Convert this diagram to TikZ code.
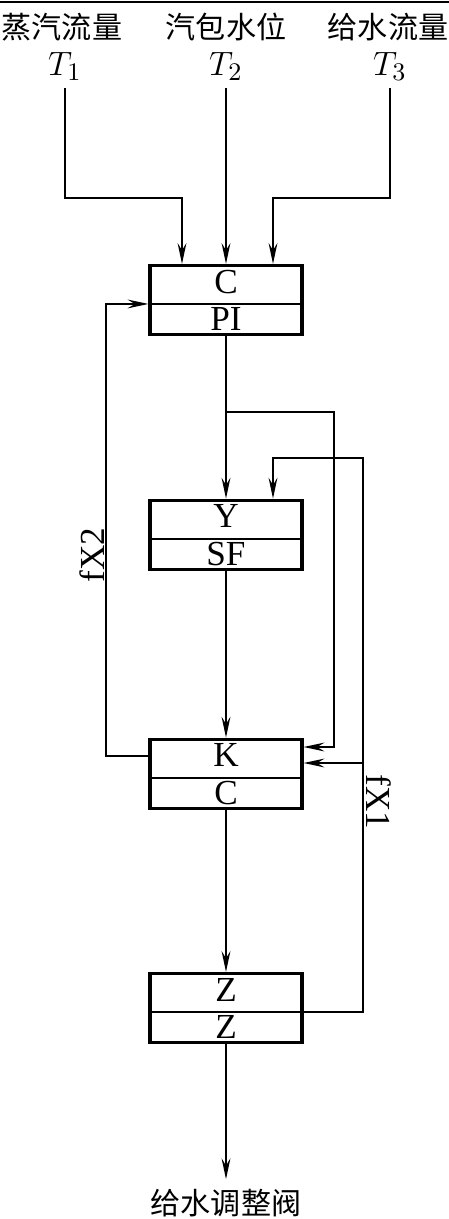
\documentclass[tikz,border=0pt]{standalone}
\usepackage{fontspec}
\setmainfont{Liberation Serif}
\newfontfamily\cjk{Noto Sans CJK SC}
\usetikzlibrary{shapes.multipart,arrows.meta}

\begin{document}
\begin{tikzpicture}[x=0.0125cm, y=-0.0125cm,
    font=\fontsize{12.5}{15}\selectfont,
    blk/.style={rectangle split, rectangle split parts=2, rectangle split draw splits=false,
      draw, line width=1.1pt, minimum width=1.9cm, inner ysep=0.8pt,
      text height=8.5pt, text depth=2.5pt, align=center},
    arr/.style={line width=0.7pt, -{Stealth[length=2.6mm,width=1.1mm,inset=0.9mm]}},
    wire/.style={line width=0.7pt},
    cn/.style={font=\cjk\fontsize{10.7}{13}\selectfont},
    lbl/.style={inner sep=1pt, outer ysep=1.5pt}]
    \useasboundingbox (0,0) rectangle (449,1219);
    \draw[wire] (0,2) -- (449,2);

    % Measured signals
    \node[cn] (l1) at (62,27) {蒸汽流量};
    \node[cn] (l2) at (226,27) {汽包水位};
    \node[cn] (l3) at (388,27) {给水流量};
    \node[lbl, anchor=south] (t1) at (65,88) {$T_1$};
    \node[lbl, anchor=south] (t2) at (226,88) {$T_2$};
    \node[lbl, anchor=south] (t3) at (390,88) {$T_3$};

    % Blocks
    \node[blk] (c1) at (226,300) {C\nodepart{two}PI};
    \node[blk] (ysf) at (226,535) {Y\nodepart{two}SF};
    \node[blk] (kc) at (226,774) {K\nodepart{two}C};
    \node[blk] (zz) at (226,1008) {Z\nodepart{two}Z};
    \foreach \b in {c1,ysf,kc,zz}
      \draw[wire] (\b.text split west) -- (\b.text split east);

    % Inputs to the first block
    \coordinate (k1) at (182,198);
    \coordinate (k3) at (273,198);
    \draw[arr] (t1.south) |- (k1) -- (k1 |- c1.north);
    \draw[arr] (t2.south) -- (c1.north);
    \draw[arr] (t3.south) |- (k3) -- (k3 |- c1.north);

    % Main chain
    \node[cn] (out) at (226,1203) {给水调整阀};
    \draw[arr] (c1.south) -- (ysf.north);
    \draw[arr] (ysf.south) -- (kc.north);
    \draw[arr] (kc.south) -- (zz.north);
    \draw[arr] (zz.south) -- (out.north);

    % Feed forward to K
    \coordinate (b1) at (226,412);
    \coordinate (r1) at (334,747);
    \draw[arr] (b1) -| (r1) -- (r1 -| kc.east);

    % Feedback fX1
    \coordinate (r2) at (363,458);
    \coordinate (q2) at (273,458);
    \coordinate (b2) at (363,763);
    \draw[arr] (zz.text split east) -| (r2) -- (q2) -- (q2 |- ysf.north);
    \draw[arr] (b2) -- (b2 -| kc.east);
    \node[rotate=-90] (fx1) at (379,802) {fX1};

    % Feedback fX2
    \coordinate (f2) at (106,756);
    \draw[arr] (f2 -| kc.west) -- (f2) |- (c1.text split west);
    \node[rotate=90] (fx2) at (92,555) {fX2};
\end{tikzpicture}
\end{document}
